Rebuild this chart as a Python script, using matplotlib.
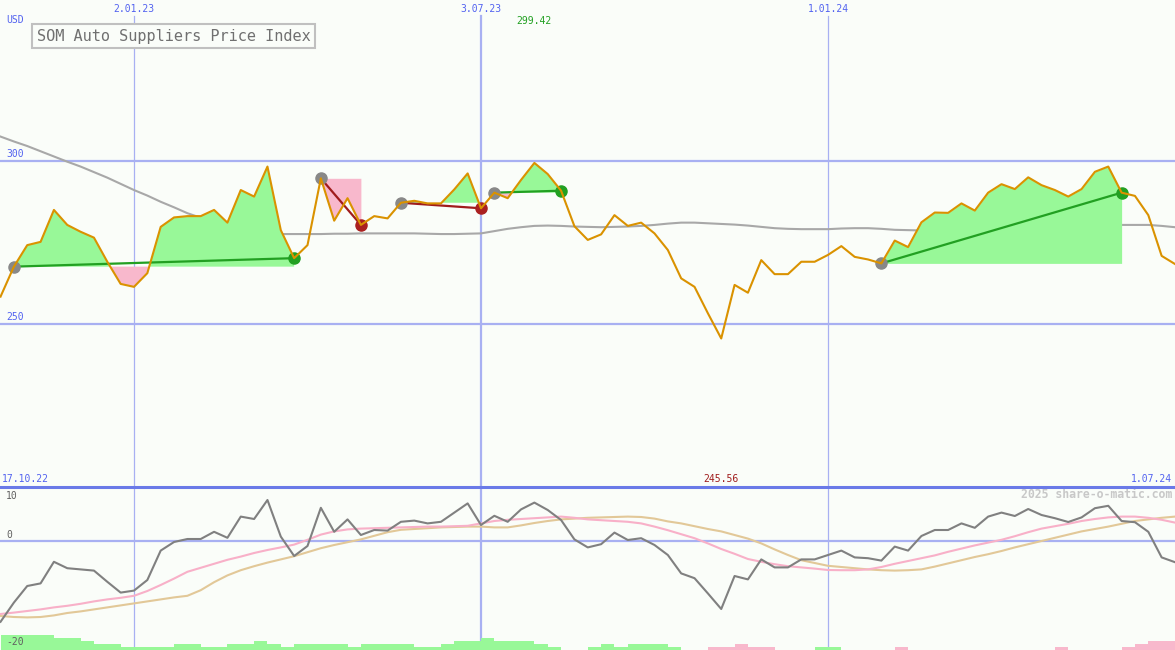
import numpy as np
import matplotlib.pyplot as plt

# weeks counted from 2.01.23 (week 0); 3.07.23 = week 26, 1.01.24 = week 52
weeks = np.arange(-10, 79)

price = [258.4, 267.6, 274.2, 275.2, 285.0, 280.4, 278.3, 276.5, 269.1, 262.3,
         261.4, 265.6, 279.8, 282.7, 283.1, 283.1, 285.0, 281.1, 291.1, 289.1,
         298.3, 278.8, 270.2, 274.2, 294.7, 281.7, 288.6, 280.4, 283.1, 282.4,
         287.2, 287.8, 287.0, 287.0, 291.3, 296.2, 285.5, 290.3, 288.6, 294.2,
         299.42, 296.0, 290.9, 280.0, 275.8, 277.5, 283.4, 280.1, 281.1, 277.8,
         272.7, 264.0, 261.4, 253.3, 245.56, 262.0, 259.6, 269.6, 265.3, 265.3,
         269.1, 269.1, 271.2, 273.9, 270.6, 269.8, 268.6, 275.6, 273.6, 281.2,
         284.2, 284.1, 287.0, 284.8, 290.3, 292.9, 291.4, 295.0, 292.6, 291.1,
         289.1, 291.4, 296.7, 298.3, 290.3, 289.3, 283.4, 270.9, 268.4]

price_ma = [307.5, 306.0, 304.6, 303.0, 301.4, 299.8, 298.3, 296.6, 294.9, 293.0,
            291.1, 289.4, 287.5, 285.8, 284.0, 282.6, 281.4, 280.0, 279.0, 278.2,
            277.8, 277.6, 277.6, 277.6, 277.6, 277.7, 277.7, 277.8, 277.8, 277.8,
            277.8, 277.8, 277.7, 277.6, 277.6, 277.7, 277.8, 278.5, 279.2, 279.7,
            280.1, 280.2, 280.1, 279.9, 279.8, 279.7, 279.8, 279.9, 280.1, 280.4,
            280.8, 281.1, 281.1, 280.9, 280.7, 280.5, 280.2, 279.8, 279.4, 279.2,
            279.1, 279.1, 279.1, 279.3, 279.4, 279.4, 279.2, 278.9, 278.8, 278.7,
            278.7, 278.6, 278.5, 278.5, 278.6, 278.9, 279.2, 279.4, 279.6, 279.8,
            280.0, 280.2, 280.4, 280.4, 280.4, 280.4, 280.4, 280.1, 279.7]

momentum = [-20.2, -15.4, -11.25, -10.6, -5.2, -6.8, -7.1, -7.4, -10.2, -12.9,
            -12.4, -9.75, -2.4, -0.25, 0.5, 0.5, 2.3, 0.8, 6.1, 5.5,
            10.25, 1.1, -3.75, -1.25, 8.3, 2.3, 5.4, 1.5, 2.75, 2.6,
            4.8, 5.1, 4.4, 4.8, 7.1, 9.4, 4.0, 6.3, 4.8, 7.9,
            9.6, 7.75, 5.25, 0.4, -1.6, -0.8, 2.1, 0.25, 0.7, -1.0,
            -3.5, -8.1, -9.3, -13.1, -17.0, -8.75, -9.6, -4.6, -6.6, -6.6,
            -4.6, -4.6, -3.5, -2.4, -4.1, -4.3, -4.9, -1.4, -2.4, 1.25,
            2.75, 2.75, 4.4, 3.3, 6.1, 7.1, 6.25, 8.0, 6.5, 5.7,
            4.75, 5.9, 8.2, 8.8, 5.0, 4.7, 2.3, -4.1, -5.3]

mom_fast = [-18.25, -17.9, -17.5, -17.1, -16.6, -16.2, -15.7, -15.1, -14.6, -14.2,
            -13.7, -12.5, -11.0, -9.4, -7.7, -6.7, -5.7, -4.7, -3.9, -3.0,
            -2.25, -1.6, -0.9, 0.3, 1.6, 2.4, 2.9, 3.1, 3.2, 3.3,
            3.4, 3.5, 3.6, 3.6, 3.7, 3.8, 4.4, 5.0, 5.3, 5.5,
            5.7, 5.9, 6.1, 5.8, 5.4, 5.2, 5.0, 4.8, 4.4, 3.6,
            2.7, 1.7, 0.7, -0.6, -2.0, -3.2, -4.5, -5.2, -5.8, -6.3,
            -6.6, -6.9, -7.25, -7.3, -7.3, -7.1, -6.5, -5.7, -5.0, -4.3,
            -3.6, -2.7, -1.9, -1.1, -0.4, 0.3, 1.2, 2.2, 3.1, 3.7,
            4.3, 5.0, 5.5, 5.9, 6.1, 6.1, 5.8, 5.3, 4.6]

mom_slow = [-18.75, -19.0, -19.1, -19.0, -18.6, -18.0, -17.6, -17.1, -16.6, -16.1,
            -15.6, -15.1, -14.6, -14.1, -13.7, -12.3, -10.3, -8.6, -7.3, -6.3,
            -5.4, -4.6, -3.8, -2.8, -1.8, -1.0, -0.3, 0.4, 1.3, 2.2,
            2.8, 3.0, 3.2, 3.4, 3.5, 3.6, 3.6, 3.4, 3.4, 3.9,
            4.5, 5.0, 5.4, 5.6, 5.8, 5.9, 6.0, 6.1, 6.0, 5.6,
            4.9, 4.4, 3.7, 3.0, 2.4, 1.5, 0.6, -0.6, -2.1, -3.5,
            -4.8, -5.5, -6.2, -6.5, -6.8, -7.1, -7.3, -7.4, -7.3, -7.1,
            -6.4, -5.6, -4.8, -4.0, -3.3, -2.5, -1.6, -0.8, 0.0, 0.8,
            1.6, 2.4, 3.0, 3.6, 4.3, 5.0, 5.4, 5.8, 6.1]

# bar for week k spans k..k+1, k = -10..77 (positive green, negative pink)
bar_weeks = np.arange(-10, 78)
bar_vals = [3.75, 3.75, 3.75, 3.75, 3.0, 3.0, 2.25, 1.5, 1.5, 0.75,
            0.75, 0.75, 0.75, 1.5, 1.5, 0.75, 0.75, 1.5, 1.5, 2.25,
            1.5, 0.75, 1.5, 1.5, 1.5, 1.5, 0.75, 1.5, 1.5, 1.5,
            1.5, 0.75, 0.75, 1.5, 2.25, 2.25, 3.0, 2.25, 2.25, 2.25,
            1.5, 0.75, 0, 0, 0.75, 1.5, 0.75, 1.5, 1.5, 1.5,
            0.75, 0, 0, -0.75, -0.75, -1.5, -0.75, -0.75, 0, 0,
            0, 0.75, 0.75, 0, 0, 0, 0, -0.75, 0, 0,
            0, 0, 0, 0, 0, 0, 0, 0, 0, -0.75,
            0, 0, 0, 0, -0.75, -1.5, -2.25, -2.25]

entry_wk = [-9, 14, 20, 27, 56]
exit_wk = [12, 17, 26, 32, 74]

date_wk = [0, 26, 52]
date_labels = ["2.01.23", "3.07.23", "1.01.24"]

BG = "#fafdf9"
BLUE_TXT = "#5262f0"
GRID = "#a8b0f2"
GREEN_FILL = "#98f898"
PINK_FILL = "#f8b8cc"
MONO = "DejaVu Sans Mono"

W, H = 1175, 650
top_h = 487
fig = plt.figure(figsize=(W / 100, H / 100), dpi=100, facecolor=BG)
ax = fig.add_axes([0, (H - top_h) / H, 1, top_h / H], facecolor=BG)
ax2 = fig.add_axes([0, 0, 1, (H - top_h) / H], facecolor=BG)

x0, x1 = -10.04, 78.0
ax.set_xlim(x0, x1)
ax.set_ylim(200, 349.4)
ax2.set_xlim(x0, x1)
ax2.set_ylim(-27.25, 13.5)
for a in (ax, ax2):
    a.set_axis_off()

price = np.array(price)
wk = np.array(weeks)

# grid
for lvl in (300, 250):
    ax.axhline(lvl, color=GRID, lw=1.6, zorder=1)
ax2.axhline(0, color=GRID, lw=1.6, zorder=1)
ax2.axhline(13.5, color="#6a7ae8", lw=2.2, zorder=6, clip_on=False)
for d in date_wk:
    lw = 1.6 if d == 26 else 0.9
    ax.axvline(d, ymin=0, ymax=1 - 16 / top_h, color=GRID, lw=lw, zorder=1)
    ax2.axvline(d, color=GRID, lw=lw, zorder=1)

# long moving average
ax.plot(weeks, price_ma, color="#a8a8a8", lw=1.5, zorder=2)

# trades
for e, x in zip(entry_wk, exit_wk):
    m = (wk >= e) & (wk <= x)
    xs, ps = wk[m], price[m]
    pe = price[wk == e][0]
    px = price[wk == x][0]
    ax.fill_between(xs, ps, pe, where=ps >= pe, interpolate=True,
                    color=GREEN_FILL, lw=0, zorder=2)
    ax.fill_between(xs, ps, pe, where=ps <= pe, interpolate=True,
                    color=PINK_FILL, lw=0, zorder=2)
    win = px > pe
    ax.plot([e, x], [pe, px], color="#22a022" if win else "#a01c1c",
            lw=1.6, zorder=3)
    ax.plot(e, pe, "o", ms=8, color="#888888", zorder=3)
    ax.plot(x, px, "o", ms=8, color="#22a022" if win else "#aa2020", zorder=3)

ax.plot(weeks, price, color="#da9200", lw=1.5, zorder=4)

# lower panel
bv = np.array(bar_vals)
ax2.bar(bar_weeks, np.abs(bv), width=1, bottom=-27.25, align="edge",
        color=np.where(bv > 0, GREEN_FILL, PINK_FILL), lw=0, zorder=1)
ax2.plot(weeks, mom_slow, color="#e2c898", lw=1.5, zorder=2)
ax2.plot(weeks, mom_fast, color="#f8b0c8", lw=1.5, zorder=2)
ax2.plot(weeks, momentum, color="#808080", lw=1.5, zorder=3)

# texts
for d, lab in zip(date_wk, date_labels):
    ax.text(d, 1 - 9 / top_h, lab, transform=ax.get_xaxis_transform(),
            ha="center", va="center", color=BLUE_TXT, fontsize=7, family=MONO)
ax.text(6 / W, 1 - 20 / top_h, "USD", transform=ax.transAxes, ha="left",
        va="center", color=BLUE_TXT, fontsize=7, family=MONO)
for lvl in (300, 250):
    ax.text(6 / W, lvl + 0.6, str(lvl), transform=ax.get_yaxis_transform(),
            ha="left", va="bottom", color=BLUE_TXT, fontsize=7, family=MONO)
ax.text(2 / W, 8 / top_h, "17.10.22", transform=ax.transAxes, ha="left",
        va="center", color=BLUE_TXT, fontsize=7, family=MONO)
ax.text(1 - 3 / W, 8 / top_h, "1.07.24", transform=ax.transAxes, ha="right",
        va="center", color=BLUE_TXT, fontsize=7, family=MONO)

hi = int(np.argmax(price))
lo = int(np.argmin(price))
ax.text(weeks[hi], 1 - 21 / top_h, f"{price[hi]:.2f}", transform=ax.get_xaxis_transform(),
        ha="center", va="center", color="#22a022", fontsize=7, family=MONO)
ax.text(weeks[lo], 8 / top_h, f"{price[lo]:.2f}", transform=ax.get_xaxis_transform(),
        ha="center", va="center", color="#a01c1c", fontsize=7, family=MONO)

ax.text(37 / W, 1 - 36 / top_h, "SOM Auto Suppliers Price Index",
        transform=ax.transAxes, ha="left", va="center", color="#707070",
        fontsize=11, family=MONO,
        bbox=dict(boxstyle="square,pad=0.3", fc=BG, ec="#c0c0c0", lw=1.5))

for val, ypx in (("10", 496), ("0", 535), ("-20", 642)):
    ax2.text(6 / W, 1 - (ypx - top_h) / (H - top_h), val, transform=ax2.transAxes,
             ha="left", va="center", color="#606060", fontsize=7, family=MONO)
ax2.text(1 - 3 / W, 1 - (495 - top_h) / (H - top_h), "2025 share-o-matic.com",
         transform=ax2.transAxes, ha="right", va="center", color="#c8c8c8",
         fontsize=8.3, family=MONO, weight="bold")

fig.savefig("out.png", dpi=100, facecolor=BG)
